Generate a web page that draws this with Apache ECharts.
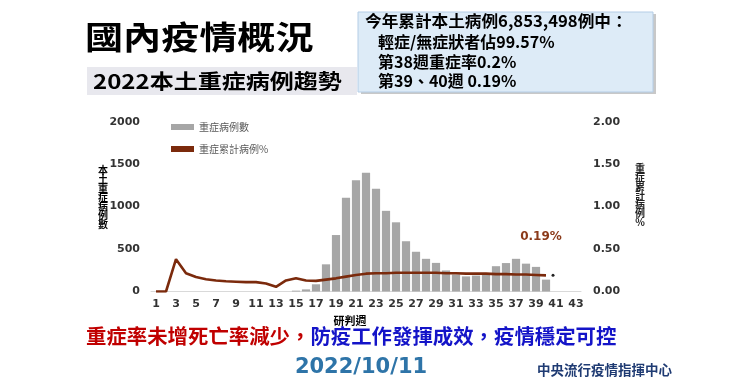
<!DOCTYPE html>
<html><head><meta charset="utf-8">
<script src="https://cdn.jsdelivr.net/npm/echarts@6/dist/echarts.min.js"></script>
<style>html,body{margin:0;padding:0;background:#fff}#c{width:730px;height:383px}</style>
</head><body><div id="c"></div>
<script>
var weeks = ['1','2','3','4','5','6','7','8','9','10','11','12','13','14','15','16','17','18','19','20','21','22','23','24','25','26','27','28','29','30','31','32','33','34','35','36','37','38','39','40','41','42','43'];
var severeCases = [0,0,0,0,0,0,0,0,0,0,0,0,0,0,10,25,85,320,665,1105,1310,1400,1210,950,815,592,468,385,337,248,200,178,188,195,298,335,385,328,290,140,null,null,null];
var severePct = [0,0,0.38,0.215,0.17,0.145,0.13,0.12,0.115,0.11,0.11,0.095,0.055,0.13,0.157,0.13,0.125,0.14,0.155,0.175,0.195,0.21,0.215,0.215,0.22,0.22,0.22,0.22,0.22,0.215,0.215,0.21,0.21,0.21,0.205,0.205,0.2,0.2,0.195,0.19,null,null,null];
var leftTicks = [0,500,1000,1500,2000];
var rightTicks = [0,0.5,1,1.5,2];
var lastLabel = '0.19%';

var CJK = '"Noto Sans CJK TC","Noto Sans CJK SC",sans-serif';
var chart = echarts.init(document.getElementById('c'), null, {renderer:'canvas'});
chart.setOption({
  animation:false,
  backgroundColor:'#fff',
  grid:{left:151, right:149, top:121.7, bottom:91.5},
  legend:{
    orient:'vertical', left:166, top:117, itemWidth:23, itemHeight:6, itemGap:12,
    textStyle:{fontSize:10, color:'#595959', fontFamily:CJK},
    data:[{name:'重症病例數', icon:'rect'},{name:'重症累計病例%', icon:'rect', itemStyle:{color:'#7B2A0C'}}]
  },
  xAxis:{
    type:'category', data:weeks, boundaryGap:true,
    axisLine:{lineStyle:{color:'#D9D9D9'}}, axisTick:{show:false},
    axisLabel:{interval:1, margin:7, fontSize:11, fontWeight:'bold', color:'#333', fontFamily:'DejaVu Sans'}
  },
  yAxis:[
    {type:'value', min:leftTicks[0], max:leftTicks[4], interval:500, splitLine:{show:false},
     axisLine:{show:false}, axisTick:{show:false},
     axisLabel:{margin:11, fontSize:11, fontWeight:'bold', color:'#333', fontFamily:'DejaVu Sans',
       formatter:function(v){return String(v);}}},
    {type:'value', min:rightTicks[0], max:rightTicks[4], interval:0.5, splitLine:{show:false},
     axisLine:{show:false}, axisTick:{show:false},
     axisLabel:{margin:12, fontSize:11, fontWeight:'bold', color:'#333', fontFamily:'DejaVu Sans',
       formatter:function(v){return v.toFixed(2);}}}
  ],
  series:[
    {name:'重症病例數', type:'bar', data:severeCases, yAxisIndex:0, barCategoryGap:'18%',
     itemStyle:{color:'#A6A6A6'}},
    {name:'重症累計病例%', type:'line', data:severePct, yAxisIndex:1, symbol:'none',
     lineStyle:{color:'#7B2A0C', width:2.6}, itemStyle:{color:'#7B2A0C'},
     markPoint:{
       data:[{coord:['40', severePct[39]], symbol:'circle', symbolSize:3, symbolOffset:[7,0],
         itemStyle:{color:'#222'},
         label:{show:true, formatter:lastLabel, position:'top', offset:[-12,-26], color:'#8B3A1A', fontWeight:'bold', fontSize:12, fontFamily:'DejaVu Sans'}}]
     }}
  ],
  graphic:[
    {type:'text', x:85, y:37, scaleX:1.19, style:{text:'國內疫情概況', font:'bold 32px '+CJK, fill:'#000', verticalAlign:'middle'}},
    {type:'rect', shape:{x:87, y:67, width:270, height:28}, style:{fill:'#E8E8EE'}},
    {type:'text', x:93, y:81.5, scaleX:1.2, style:{text:'2022本土重症病例趨勢', font:'bold 20px '+CJK, fill:'#000', verticalAlign:'middle'}},
    {type:'rect', shape:{x:361, y:14, width:295, height:80}, style:{fill:'#C8C8C8'}},
    {type:'rect', shape:{x:358, y:12, width:295, height:80}, style:{fill:'#DDEBF7', stroke:'#B4CDE6', lineWidth:1}},
    {type:'text', x:365, y:21, scaleX:1.04, style:{text:'今年累計本土病例6,853,498例中：', font:'bold 16px '+CJK, fill:'#000', verticalAlign:'middle'}},
    {type:'text', x:378, y:42, style:{text:'輕症/無症狀者佔99.57%', font:'bold 16px '+CJK, fill:'#000', verticalAlign:'middle'}},
    {type:'text', x:378, y:62, style:{text:'第38週重症率0.2%', font:'bold 16px '+CJK, fill:'#000', verticalAlign:'middle'}},
    {type:'text', x:378, y:81, style:{text:'第39、40週 0.19%', font:'bold 16px '+CJK, fill:'#000', verticalAlign:'middle'}},
    {type:'text', x:103, y:197, style:{text:'本\n土\n重\n症\n病\n例\n數', font:'bold 10px '+CJK, lineHeight:9, fill:'#000', align:'center', verticalAlign:'middle'}},
    {type:'text', x:640, y:195, style:{text:'重\n症\n累\n計\n病\n例\n%', font:'bold 10px '+CJK, lineHeight:9, fill:'#222', align:'center', verticalAlign:'middle'}},
    {type:'text', x:350, y:321, style:{text:'研判週', font:'bold 11px '+CJK, fill:'#000', align:'center', verticalAlign:'middle'}},
    {type:'text', x:86, y:336, scaleX:1.02, style:{
      text:'{r|重症率未增死亡率減少，}{b|防疫工作發揮成效，疫情穩定可控}', verticalAlign:'middle',
      rich:{r:{font:'bold 20px '+CJK, fill:'#C00000'}, b:{font:'bold 20px '+CJK, fill:'#1414C8'}}}},
    {type:'text', x:361, y:368, style:{text:'2022/10/11', font:'bold 21px "DejaVu Sans",sans-serif', fill:'#2E74A8', align:'center', verticalAlign:'middle'}},
    {type:'text', x:537, y:370, style:{text:'中央流行疫情指揮中心', font:'bold 13.5px '+CJK, fill:'#1F3B73', verticalAlign:'middle'}}
  ]
});
</script></body></html>
